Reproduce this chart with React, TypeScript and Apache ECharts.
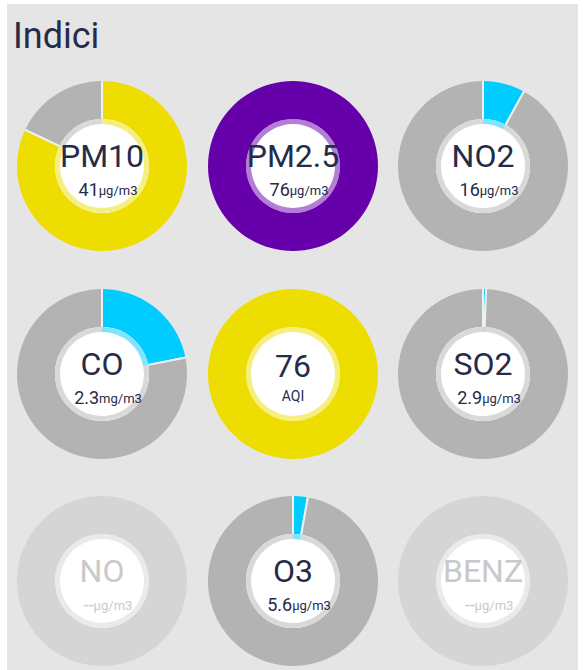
import React, { useEffect, useRef } from "react";
import * as echarts from "echarts";

const names = ["PM10", "PM2.5", "NO2", "CO", "76", "SO2", "NO", "O3", "BENZ"];
const values: (number | null)[] = [41, 76, 16, 2.3, 76, 2.9, null, 5.6, null];
const maxima = [50, 76, 200, 10.5, 76, 500, 1, 200, 1];
const valueLabels = ["41", "76", "16", "2.3", "", "2.9", "--", "5.6", "--"];
const units = ["μg/m3", "μg/m3", "μg/m3", "mg/m3", "AQI", "μg/m3", "μg/m3", "μg/m3", "μg/m3"];
const fillColors = ["#eedd00", "#6600aa", "#00ccff", "#00ccff", "#eedd00", "#00ccff", "#d6d5d5", "#00ccff", "#d6d5d5"];

const COLS = [102, 293, 483];
const ROWS = [166, 374, 581];
const GRAY = "#b3b3b3";
const BG = "#e5e5e5";
const TEXT = "#252b48";
const MUTED = "#c9c9c9";

export default function App() {
  const ref = useRef<HTMLDivElement>(null);
  useEffect(() => {
    if (!ref.current) return;
    const chart = echarts.init(ref.current, null, { renderer: "svg" });
    const series: any[] = [];
    const graphics: any[] = [
      { type: "rect", shape: { x: 7, y: 4, width: 571, height: 680 }, style: { fill: BG }, z: -10 },
      { type: "text", x: 13, y: 36, style: { text: "Indici", font: "36px Roboto", fill: TEXT, verticalAlign: "middle" } },
    ];
    names.forEach((name, i) => {
      const cx = COLS[i % 3];
      const cy = ROWS[Math.floor(i / 3)];
      const v = values[i];
      const empty = v === null;
      const data: any[] = [];
      if (empty) {
        data.push({ value: 1, itemStyle: { color: fillColors[i] } });
      } else {
        data.push({ value: v, itemStyle: { color: fillColors[i] } });
        const rest = maxima[i] - (v as number);
        if (rest > 0) data.push({ value: rest, itemStyle: { color: GRAY } });
      }
      const base = {
        type: "pie",
        center: [cx, cy],
        startAngle: 90,
        clockwise: true,
        silent: true,
        label: { show: false },
        labelLine: { show: false },
        emphasis: { disabled: true },
        minAngle: 0,
        avoidLabelOverlap: false,
      };
      series.push({
        ...base,
        radius: [46, 87],
        itemStyle: { borderColor: "#f0f0f0", borderWidth: data.length > 1 ? 2 : 0 },
        data,
      });
      series.push({
        ...base,
        radius: [0, 47],
        itemStyle: { color: "#ffffff" },
        data: [{ value: 1 }],
      });
      series.push({
        ...base,
        radius: [42, 47],
        itemStyle: { opacity: 0.5, borderWidth: 0 },
        data,
      });
      graphics.push({
        type: "ring",
        shape: { cx, cy, r: 90, r0: 85 },
        style: { fill: BG },
        z: 20,
      });
      const isAqi = units[i] === "AQI";
      const color = empty ? MUTED : TEXT;
      graphics.push({
        type: "text",
        x: cx,
        y: isAqi ? cy - 8 : cy - 10,
        z: 30,
        style: { text: name, font: "32px Roboto", fill: color, align: "center", verticalAlign: "middle" },
      });
      if (isAqi) {
        graphics.push({
          type: "text",
          x: cx,
          y: cy + 22,
          z: 30,
          style: { text: units[i], font: "14px Roboto", fill: color, align: "center", verticalAlign: "middle" },
        });
      } else {
        graphics.push({
          type: "text",
          x: cx + 6,
          y: cy + 23,
          z: 30,
          style: {
            text: "{v|" + valueLabels[i] + "}{u|" + units[i] + "}",
            align: "center",
            verticalAlign: "middle",
            fill: color,
            rich: {
              v: { fontSize: 18, fontFamily: "Roboto", fill: color, verticalAlign: "bottom" },
              u: { fontSize: 13, fontFamily: "Roboto", fill: color, verticalAlign: "bottom", padding: [0, 0, 1, 0] },
            },
          },
        });
      }
    });
    chart.setOption({
      animation: false,
      backgroundColor: "#ffffff",
      series,
      graphic: { elements: graphics },
    });
    return () => chart.dispose();
  }, []);
  return (
    <div
      ref={ref}
      style={{ position: "fixed", left: 0, top: 0, width: 585, height: 670 }}
    />
  );
}
